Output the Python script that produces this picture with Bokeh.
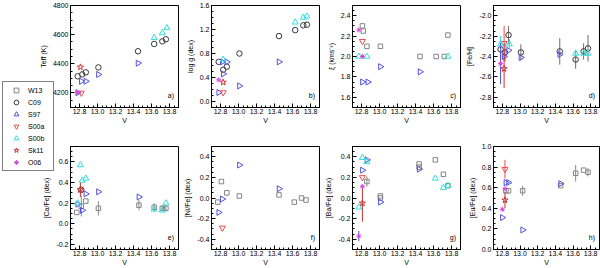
import math
from bokeh.plotting import figure
from bokeh.layouts import column
from bokeh.models import (Range1d, Legend, LegendItem, Label, GridBox,
                          SingleIntervalTicker, PrintfTickFormatter)
from bokeh.embed import file_html
from bokeh.resources import INLINE

# ---------------- data: (V, value[, err]) ----------------
teff_C09 = [(12.78, 4314), (12.83, 4327), (12.87, 4341), (13.01, 4375), (13.45, 4486), (13.63, 4536), (13.72, 4554), (13.76, 4568)]
teff_S97 = [(12.78, 4202), (12.82, 4280), (12.87, 4280), (13.01, 4327), (13.45, 4404)]
teff_S00a = [(12.82, 4200)]
teff_S00b = [(13.63, 4578), (13.72, 4611), (13.77, 4646)]
teff_Sk11 = [(12.81, 4377)]
teff_O06 = [(12.78, 4202)]

logg_C09 = [(12.78, 0.66), (12.83, 0.53), (12.87, 0.58), (13.01, 0.80), (13.45, 1.09), (13.63, 1.19), (13.72, 1.27), (13.76, 1.28)]
logg_S97 = [(12.78, 0.15), (12.82, 0.66), (12.87, 0.66), (12.83, 0.46), (13.01, 0.26), (13.45, 0.66)]
logg_S00a = [(12.83, 0.15)]
logg_S00b = [(12.83, 0.70), (13.63, 1.32), (13.72, 1.40), (13.76, 1.42)]
logg_Sk11 = [(12.83, 0.32)]
logg_O06 = [(12.78, 0.36)]

xi_W13 = [(12.81, 2.30), (12.82, 2.25), (12.86, 2.10), (13.01, 2.10), (13.45, 2.00), (13.63, 2.00), (13.72, 2.00), (13.76, 2.21)]
xi_S97 = [(12.81, 1.75), (12.87, 1.75), (13.01, 1.90), (13.45, 1.85)]
xi_S00a = [(12.81, 2.15)]
xi_S00b = [(12.77, 2.00), (12.86, 2.00), (13.76, 2.00)]
xi_O06 = [(12.77, 2.26), (12.81, 2.00)]

feh_C09 = [(12.78, -2.33, 0.10), (12.83, -2.36, 0.09), (12.87, -2.19, 0.09), (13.01, -2.36, 0.08), (13.45, -2.35, 0.13), (13.63, -2.43, 0.09), (13.72, -2.35, 0.08), (13.77, -2.32, 0.13)]
feh_S97 = [(12.82, -2.40), (12.87, -2.34), (13.01, -2.41), (13.45, -2.38)]
feh_S00a = [(12.82, -2.27, 0.17)]
feh_S00b = [(12.78, -2.28, 0.08), (12.88, -2.28, 0.05), (13.63, -2.37, 0.03), (13.72, -2.37), (13.77, -2.37)]
feh_Sk11 = [(12.82, -2.52, 0.19)]
feh_O06 = [(12.78, -2.47, 0.20)]

ca_W13 = [(12.77, 0.11), (12.82, 0.17, 0.10), (12.87, 0.22), (13.01, 0.15, 0.07), (13.46, 0.18, 0.05), (13.63, 0.16, 0.04), (13.72, 0.15, 0.03), (13.76, 0.15, 0.03)]
ca_C09 = [(12.82, 0.33)]
ca_S97 = [(12.78, 0.19), (12.83, 0.13), (12.87, 0.29), (13.01, 0.31), (13.46, 0.26)]
ca_S00b = [(12.81, 0.57), (12.83, 0.42), (12.87, 0.44), (12.78, 0.20), (13.63, 0.14), (13.72, 0.13), (13.76, 0.20)]
ca_Sk11 = [(12.81, 0.33, 0.07)]

ni_W13 = [(12.77, -0.04), (12.81, 0.16), (12.87, 0.05), (13.01, 0.02), (13.45, 0.03), (13.62, -0.04), (13.70, 0.00), (13.75, -0.02)]
ni_S97 = [(12.78, -0.14), (12.82, -0.01), (13.01, 0.32), (13.45, 0.09)]
ni_S00a = [(12.82, -0.29)]

ba_W13 = [(12.86, 0.16, 0.05), (13.01, 0.02), (13.01, 0.00), (13.44, 0.33), (13.44, 0.30), (13.62, 0.37), (13.71, 0.23), (13.76, 0.12)]
ba_S97 = [(12.86, 0.37), (12.81, 0.27), (13.01, -0.04), (13.44, 0.28)]
ba_S00a = [(12.81, 0.20)]
ba_S00b = [(12.81, 0.39), (12.86, 0.35), (12.77, -0.09), (13.62, 0.19), (13.71, 0.10), (13.76, 0.12)]
ba_Sk11 = [(12.81, -0.05, 0.18)]
ba_O06 = [(12.77, -0.37, 0.05), (12.81, 0.11)]

eu_W13 = [(12.84, 0.57), (12.87, 0.57), (13.03, 0.57, 0.05), (13.46, 0.62), (13.63, 0.74, 0.08), (13.72, 0.77), (13.77, 0.75, 0.04)]
eu_S97 = [(12.84, 0.65), (12.87, 0.65), (12.80, 0.31), (13.03, 0.19), (13.46, 0.64)]
eu_S00a = [(12.83, 0.78, 0.09)]
eu_Sk11 = [(12.83, 0.48, 0.08)]
eu_O06 = [(12.80, 0.39), (12.83, 0.59)]

SERIES = ["W13", "C09", "S97", "S00a", "S00b", "Sk11", "O06"]
COLORS = {"W13": "#858585", "C09": "#383838", "S97": "#5050e0", "S00a": "#f04848",
          "S00b": "#30dede", "Sk11": "#c83232", "O06": "#d848d8"}
ERR_COLORS = {"W13": "#8a8a8a", "C09": "#6e6e6e", "S97": "#5050e0", "S00a": "#f04848",
              "S00b": "#30dede", "Sk11": "#c83232", "O06": "#5050e0"}
MARKERS = {"W13": ("square", 4.5, 0.0), "C09": ("circle", 5.5, 0.0), "S97": ("triangle", 6, -math.pi / 2),
           "S00a": ("inverted_triangle", 6, 0.0), "S00b": ("triangle", 6, 0.0),
           "Sk11": ("star", 6.5, 0.0), "O06": ("asterisk", 5, 0.0)}

FONT = "Liberation Sans"
FS = "7px"

FRAME_W = 108
COL_LEFT = [70, 30, 30, 28]
COL_RIGHT = [3, 3, 3, 1]
ROW_TOP = [5, 11]
ROW_FRAME = [102, 104]
ROW_BOTTOM = [28, 18]


def panel(col, row, ylabel, yr, ytick, yfmt, letter, data):
    w = COL_LEFT[col] + FRAME_W + COL_RIGHT[col]
    h = ROW_TOP[row] + ROW_FRAME[row] + ROW_BOTTOM[row]
    p = figure(width=w, height=h, output_backend="svg", toolbar_location=None,
               x_range=Range1d(12.7, 13.9), y_range=Range1d(*yr),
               min_border_left=COL_LEFT[col], min_border_right=COL_RIGHT[col],
               min_border_top=ROW_TOP[row], min_border_bottom=ROW_BOTTOM[row],
               background_fill_color="white", border_fill_color=None)
    p.outline_line_color = "black"
    p.outline_line_width = 1
    p.xgrid.visible = False
    p.ygrid.visible = False
    p.xaxis.ticker = SingleIntervalTicker(interval=0.2, num_minor_ticks=4)
    p.yaxis.ticker = SingleIntervalTicker(interval=ytick, num_minor_ticks=4)
    p.xaxis.formatter = PrintfTickFormatter(format="%.1f")
    p.yaxis.formatter = PrintfTickFormatter(format=yfmt)
    p.xaxis.axis_label = "V"
    p.yaxis.axis_label = ylabel
    for ax in (p.xaxis[0], p.yaxis[0]):
        ax.major_tick_in = 4
        ax.major_tick_out = 0
        ax.minor_tick_in = 2
        ax.minor_tick_out = 0
        ax.axis_line_color = "black"
        ax.major_label_text_font = FONT
        ax.major_label_text_font_size = FS
        ax.major_label_text_color = "black"
        ax.axis_label_text_font = FONT
        ax.axis_label_text_font_size = FS
        ax.axis_label_text_font_style = "normal"
        ax.axis_label_text_color = "black"
    p.xaxis.major_label_standoff = 1
    p.xaxis.axis_label_standoff = 0
    p.yaxis.major_label_standoff = 2
    p.yaxis.axis_label_standoff = 3
    for name in SERIES:
        pts = data.get(name)
        if not pts:
            continue
        col_ = COLORS[name]
        mk, sz, ang = MARKERS[name]
        ex, lo, hi = [], [], []
        for t in pts:
            if len(t) > 2:
                ex.append(t[0]); lo.append(t[1] - t[2]); hi.append(t[1] + t[2])
        if ex:
            p.segment(x0=ex, y0=lo, x1=ex, y1=hi, line_color=ERR_COLORS[name], line_width=1)
        p.scatter(x=[t[0] for t in pts], y=[t[1] for t in pts], marker=mk, size=sz, angle=ang,
                  line_color=col_, fill_color=None, line_width=1)
    yspan = yr[1] - yr[0]
    p.add_layout(Label(x=13.85, y=yr[0] + 0.08 * yspan, text=letter, text_align="right",
                       text_font=FONT, text_font_size=FS, text_color="black"))
    return p


pa = panel(0, 0, "Teff (K)", (4100, 4800), 200, "%d", "a)",
           {"C09": teff_C09, "S97": teff_S97, "S00a": teff_S00a, "S00b": teff_S00b, "Sk11": teff_Sk11, "O06": teff_O06})
pb = panel(1, 0, "log g (dex)", (-0.1, 1.6), 0.4, "%.1f", "b)",
           {"C09": logg_C09, "S97": logg_S97, "S00a": logg_S00a, "S00b": logg_S00b, "Sk11": logg_Sk11, "O06": logg_O06})
pc = panel(2, 0, "ξ (kms⁻¹)", (1.5, 2.5), 0.2, "%.1f", "c)",
           {"W13": xi_W13, "S97": xi_S97, "S00a": xi_S00a, "S00b": xi_S00b, "O06": xi_O06})
pd = panel(3, 0, "[Fe/H]", (-2.9, -1.9), 0.2, "%.1f", "d)",
           {"C09": feh_C09, "S97": feh_S97, "S00a": feh_S00a, "S00b": feh_S00b, "Sk11": feh_Sk11, "O06": feh_O06})
pe = panel(0, 1, "[Ca/Fe] (dex)", (-0.25, 0.75), 0.2, "%.1f", "e)",
           {"W13": ca_W13, "C09": ca_C09, "S97": ca_S97, "S00b": ca_S00b, "Sk11": ca_Sk11})
pf = panel(1, 1, "[Ni/Fe] (dex)", (-0.5, 0.5), 0.2, "%.1f", "f)",
           {"W13": ni_W13, "S97": ni_S97, "S00a": ni_S00a})
pg = panel(2, 1, "[Ba/Fe] (dex)", (-0.5, 0.5), 0.2, "%.1f", "g)",
           {"W13": ba_W13, "S97": ba_S97, "S00a": ba_S00a, "S00b": ba_S00b, "Sk11": ba_Sk11, "O06": ba_O06})
ph = panel(3, 1, "[Eu/Fe] (dex)", (0.0, 1.0), 0.2, "%.1f", "h)",
           {"W13": eu_W13, "S97": eu_S97, "S00a": eu_S00a, "Sk11": eu_Sk11, "O06": eu_O06})

# legend figure underneath the first column, wrapped so its frame is the whole canvas
lw = COL_LEFT[0] + FRAME_W + COL_RIGHT[0]
lh = sum(ROW_TOP) + sum(ROW_FRAME) + sum(ROW_BOTTOM)
leg = figure(width=lw, height=lh, output_backend="svg", toolbar_location=None,
             x_range=Range1d(0, 1), y_range=Range1d(0, 1), x_axis_type=None, y_axis_type=None,
             min_border_left=0, min_border_right=0, min_border_top=0, min_border_bottom=0,
             outline_line_color=None, background_fill_color=None, border_fill_color=None)
leg.xgrid.visible = False
leg.ygrid.visible = False
NaN = float("nan")
items = []
for name in SERIES:
    mk, sz, ang = MARKERS[name]
    r = leg.scatter(x=[NaN], y=[NaN], marker=mk, angle=ang, line_color=COLORS[name], fill_color=None, line_width=1)
    items.append(LegendItem(label=name, renderers=[r]))
legend = Legend(items=items, location=(2, lh - 171), padding=2, spacing=0, margin=0,
                glyph_width=22, glyph_height=12, label_height=12, label_width=23, label_standoff=1,
                label_text_font=FONT, label_text_font_size=FS, label_text_color="black",
                border_line_color="black", border_line_width=1, background_fill_color="white",
                background_fill_alpha=1.0)
leg.add_layout(legend)
leg_box = column(leg, width=lw, height=lh)

grid = GridBox(children=[(leg_box, 0, 0, 2, 1),
                         (pa, 0, 0), (pb, 0, 1), (pc, 0, 2), (pd, 0, 3),
                         (pe, 1, 0), (pf, 1, 1), (pg, 1, 2), (ph, 1, 3)], spacing=0)

open("out.html", "w").write(file_html(grid, INLINE))
